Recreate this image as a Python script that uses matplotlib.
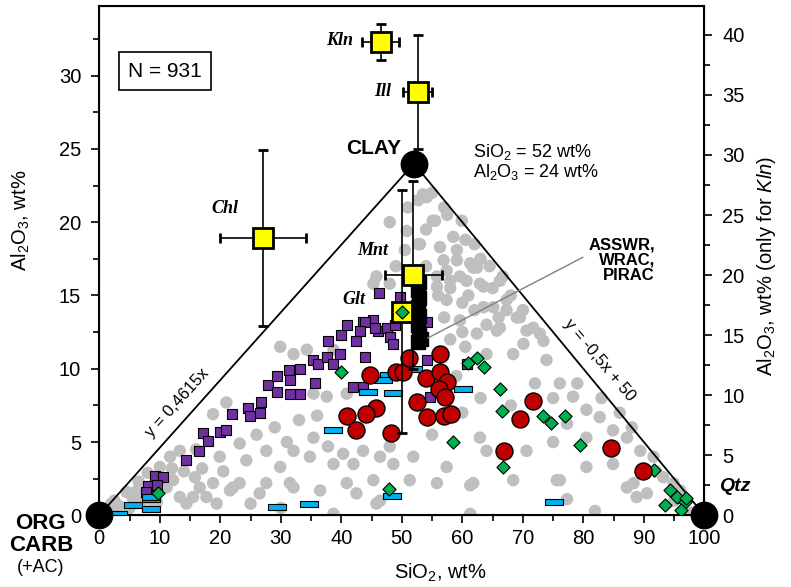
import matplotlib.pyplot as plt
from matplotlib.ticker import MultipleLocator

plt.rcParams['font.family'] = ['Liberation Sans', 'DejaVu Sans']
plt.rcParams['mathtext.fontset'] = 'custom'
plt.rcParams['mathtext.rm'] = 'Liberation Sans'
plt.rcParams['mathtext.it'] = 'Liberation Sans:italic'
plt.rcParams['mathtext.bf'] = 'Liberation Sans:bold'

# ---- data (SiO2 wt%, Al2O3 wt%) ----
# all samples (gray)
gray_x = [0.3, 1.5, 2.5, 3.5, 4.5, 5.5, 6.5, 7.0, 8.0, 10.0, 11.1, 11.7, 12.2, 13.3, 13.3, 14.4, 15.8,
          16.6, 17.7, 18.8, 19.4, 19.9, 21.0, 18.8, 21.6, 22.1, 23.2, 23.2, 24.3, 26.5, 27.6, 27.6,
          29.9, 31.5, 32.1, 32.1, 34.8, 35.4, 36.5, 37.8, 38.7, 38.7, 40.3, 40.9, 42.0, 42.5, 43.6,
          45.3, 45.8, 46.4, 46.4, 48.0, 48.6, 29.9, 32.1, 34.3, 38.7, 35.4, 37.6, 40.9, 45.8, 48.0,
          45.3, 15.5, 9.0, 25.0, 30.0, 20.5, 26.0, 29.0, 33.0, 36.0, 31.0,
          2.0, 3.0, 5.0, 6.0, 8.0, 9.5, 12.0, 14.0, 17.0, 16.0,
          53.5, 52.7, 54.1, 55.5, 50.8, 52.7, 59.9, 50.5, 56.3, 59.1, 56.9, 61.3, 59.6, 55.8, 57.4,
          61.8, 62.9, 66.7, 55.1, 53.0, 62.4, 59.1, 60.7, 63.5, 66.2, 67.3, 65.1, 69.0, 70.6, 72.8,
          66.2, 63.5, 57.4, 55.8, 59.6, 62.4, 67.3, 69.5, 71.7, 73.4, 70.1, 65.7, 68.4, 73.9, 58.0,
          60.5, 64.0, 57.0, 58.5, 54.0,
          58.0, 60.0, 61.0, 62.0, 64.0, 65.0, 63.0, 58.0, 56.0, 54.0, 57.0, 60.0, 68.0, 70.0, 66.0,
          64.5, 62.0, 60.5, 57.5, 55.0, 51.0, 49.0, 48.0,
          76.1, 78.3, 80.5, 82.7, 84.9, 87.2, 89.4, 91.6, 93.2, 94.9, 96.0, 80.5, 77.3, 75.0, 79.0,
          83.0, 86.0, 88.0, 92.0, 95.0, 97.9,
          70.6, 62.9, 64.0, 57.4, 51.9, 61.8, 75.6, 80.5, 84.9, 88.3, 68.4, 55.8, 51.3, 61.3, 61.3,
          76.1, 77.3, 81.9, 87.2, 88.8, 90.5, 60.0, 63.0, 68.0, 72.0, 75.0, 55.0, 59.0]
gray_y = [0.1, 0.5, 1.0, 0.6, 1.6, 1.2, 2.3, 0.9, 2.9, 3.3, 1.9, 4.0, 2.4, 1.25, 4.4, 0.8, 2.6,
          1.9, 1.25, 2.2, 0.8, 4.0, 7.7, 6.9, 1.7, 1.9, 4.9, 2.2, 3.75, 1.5, 4.4, 2.2,
          3.3, 2.2, 4.4, 1.9, 4.0, 5.3, 1.7, 4.7, 3.5, 0.1, 4.2, 2.2, 3.5, 1.5, 4.4,
          2.4, 0.8, 4.0, 1.0, 4.7, 3.5, 11.5, 11.0, 11.3, 11.3, 8.3, 8.1, 8.3, 16.3, 15.8,
          15.8, 1.25, 0.6, 0.8, 0.5, 3.0, 5.5, 6.0, 6.5, 6.8, 5.0,
          0.8, 0.3, 0.5, 1.6, 1.2, 0.9, 3.2, 3.0, 3.2, 4.5,
          21.9, 21.5, 21.7, 20.1, 19.4, 18.5, 20.1, 18.1, 18.3, 18.1, 17.4, 17.2, 16.3, 16.3, 16.7,
          16.9, 15.8, 16.3, 20.1, 18.5, 16.9, 17.4, 16.0, 15.6, 16.0, 14.7, 14.2, 13.5, 12.6, 12.4,
          12.8, 14.2, 14.7, 15.6, 13.3, 12.4, 14.0, 13.5, 12.8, 11.9, 11.7, 12.6, 11.0, 10.6, 12.0,
          11.5, 11.0, 21.0, 19.0, 19.5,
          15.5, 14.5, 15.0, 14.0, 13.0, 15.5, 17.5, 16.0, 15.0, 17.0, 13.5, 12.5, 15.0, 14.0, 13.5,
          17.0, 18.5, 18.8, 20.5, 22.0, 21.0, 17.0, 20.0,
          9.0, 8.1, 7.2, 6.7, 5.8, 5.3, 4.4, 4.0, 2.6, 2.2, 1.7, 5.3, 6.25, 8.0, 9.0,
          8.0, 7.0, 6.0, 3.0, 1.0, 0.2,
          4.4, 5.3, 4.4, 3.3, 4.0, 2.2, 2.4, 3.3, 3.5, 2.2, 2.4, 2.2, 2.4, 2.05, 0.1,
          2.4, 1.1, 0.3, 1.9, 1.25, 1.5, 7.0, 8.0, 7.5, 9.0, 5.0, 5.5, 9.5]

purple_x = [9.2, 10.6, 8.1, 9.5, 7.8, 14.4, 16.5, 17.2, 18.0, 19.9, 21.0, 21.9, 24.6, 24.9, 26.8, 26.5,
            27.9, 29.3, 29.3, 31.4, 31.5, 33.2, 33.2, 31.5, 35.4, 35.6, 36.2, 37.6, 37.8, 38.7, 40.0,
            39.8, 40.9, 42.5, 43.9, 42.0, 43.6, 43.6, 45.3, 46.1, 47.5, 48.0, 48.9, 48.6, 46.3, 49.7,
            54.1, 43.9, 45.5, 43.1, 54.1, 54.6, 60.7]
purple_y = [2.7, 2.6, 2.0, 2.1, 1.6, 3.8, 4.4, 5.6, 5.1, 5.7, 5.8, 6.9, 7.3, 6.8, 7.7, 7.0,
            8.9, 9.5, 8.4, 9.9, 9.2, 10.0, 8.3, 8.3, 10.6, 9.0, 10.3, 10.8, 11.9, 10.3, 12.3,
            11.0, 13.0, 11.9, 10.8, 8.75, 8.75, 13.2, 13.3, 12.6, 12.8, 12.2, 13.0, 11.7, 15.2, 14.9,
            13.2, 13.2, 12.8, 12.6, 10.6, 8.1, 10.3]

blue_x = [3.1, 5.6, 8.6, 8.6, 8.6, 29.3, 34.7, 48.3, 75.1, 38.7, 44.4, 48.6, 47.8, 46.9, 51.9, 60.1]
blue_y = [0.1, 0.7, 1.1, 0.4, 1.25, 0.6, 0.75, 1.3, 0.9, 5.8, 8.4, 8.35, 9.6, 9.2, 10.0, 8.6]

green_x = [61.0, 62.4, 63.6, 66.2, 66.5, 73.4, 74.6, 77.0, 58.4, 79.4, 66.8, 47.8, 91.6, 94.3, 95.4,
           93.5, 96.8, 96.2, 97.0, 40.0, 9.7]
green_y = [10.4, 10.7, 10.1, 8.6, 7.1, 6.8, 6.3, 6.75, 5.0, 4.8, 3.3, 1.8, 3.1, 1.7, 1.25,
           0.7, 0.9, 0.35, 1.2, 9.8, 1.5]

red_x = [44.7, 49.1, 50.2, 51.2, 56.3, 54.0, 56.3, 57.4, 56.1, 57.2, 52.5, 45.8, 44.0, 40.9, 42.5,
         48.2, 54.2, 57.0, 58.2, 71.6, 69.5, 66.9, 84.5, 89.8]
red_y = [9.6, 9.8, 9.8, 10.7, 11.0, 9.4, 9.8, 9.1, 8.6, 8.1, 7.7, 7.3, 6.9, 6.8, 5.8,
         5.6, 6.7, 6.8, 6.9, 7.8, 6.6, 4.4, 4.6, 3.0]

# ASSWR, WRAC, PIRAC samples (black)
black_x = [52.6, 52.9, 52.6, 52.9, 52.6, 52.9, 52.6, 52.9, 53.1]
black_y = [11.8, 12.4, 13.0, 13.6, 14.2, 14.8, 15.4, 15.9, 12.0]

# reference minerals: x, y, xerr, yerr
minerals = ['Chl', 'Ill', 'Mnt', 'Glt']
min_x = [27.1, 52.6, 51.9, 50.1]
min_y = [18.9, 28.9, 16.4, 13.9]
min_xerr = [7.1, 2.4, 4.7, 0.0]
min_yerr = [6.0, 3.9, 6.4, 8.3]
# kaolinite on the right axis
kln_x, kln_y, kln_xerr, kln_yerr = 46.5, 39.4, 3.0, 1.5

end_x = [0, 52, 100]
end_y = [0, 24, 0]

fig = plt.figure(figsize=(7.91, 5.87), dpi=100)
ax = fig.add_axes([0.1255, 0.1221, 0.765, 0.8677])
ax.set_xlim(0, 100)
ax.set_ylim(0, 34.75)

# triangle
ax.plot(end_x, end_y, color='black', lw=1.3, zorder=2)

ax.scatter(gray_x, gray_y, s=80, color='#bfbfbf', edgecolors='none', zorder=1)
ax.scatter(purple_x, purple_y, s=55, marker='s', color='#7030a0', edgecolors='black', linewidths=0.8, zorder=3)
rect = [(-1, -0.38), (1, -0.38), (1, 0.38), (-1, 0.38), (-1, -0.38)]
ax.scatter(blue_x, blue_y, s=150, marker=rect, color='#00b0f0', edgecolors='black', linewidths=0.8, zorder=4)
ax.scatter(green_x, green_y, s=45, marker='D', color='#00b050', edgecolors='black', linewidths=0.8, zorder=5)
ax.scatter(red_x, red_y, s=150, marker='o', color='#c00000', edgecolors='black', linewidths=1.0, zorder=6)
ax.scatter(black_x, black_y, s=110, marker='s', color='black', zorder=7)

for name, x, y, xe, ye in zip(minerals, min_x, min_y, min_xerr, min_yerr):
    ax.errorbar(x, y, xerr=xe if xe > 0 else None, yerr=ye, fmt='s', ms=15, mfc='#ffff00', mec='black',
                mew=2, ecolor='black', elinewidth=1.2, capsize=3.5, capthick=1.2, zorder=8)
ax.scatter([50.0], [13.9], s=45, marker='D', color='#00b050', edgecolors='black', linewidths=0.8, zorder=9)

ax.plot(end_x, end_y, 'o', ms=19, color='black', clip_on=False, zorder=10)

# labels of minerals
mfont = dict(family='Liberation Serif', style='italic', weight='bold', fontsize=13)
ax.text(20.8, 20.9, 'Chl', ha='center', va='center', **mfont)
ax.text(48.2, 28.9, 'Ill', ha='right', va='center', **mfont)
ax.text(47.7, 18.1, 'Mnt', ha='right', va='center', **mfont)
ax.text(43.9, 14.7, 'Glt', ha='right', va='center', **mfont)

ax.text(45.4, 25.0, 'CLAY', ha='center', va='center', fontsize=15, fontweight='bold')
ax.text(61.8, 24.8, r'SiO$_2$ = 52 wt%', ha='left', va='center', fontsize=13)
ax.text(61.8, 23.4, r'Al$_2$O$_3$ = 24 wt%', ha='left', va='center', fontsize=13)

ax.text(91.8, 17.4, 'ASSWR,\nWRAC,\nPIRAC', ha='right', va='center', fontsize=12,
        fontweight='bold', linespacing=1.05)
ax.plot([79.9, 54.3], [17.6, 12.1], color='#808080', lw=1.0, zorder=11)

ax.text(12.9, 7.7, 'y = 0,4615x', rotation=48, ha='center', va='center', fontsize=12,
        rotation_mode='anchor')
ax.text(82.7, 10.6, 'y = -0,5x + 50', rotation=-50, ha='center', va='center', fontsize=12,
        rotation_mode='anchor')

ax.text(10.9, 30.3, 'N = 931', ha='center', va='center', fontsize=15,
        bbox=dict(boxstyle='square,pad=0.45', fc='white', ec='black', lw=1.2))

ax.text(-9.8, -0.55, 'ORG', ha='center', va='center', fontsize=16, fontweight='bold', clip_on=False)
ax.text(-9.6, -2.05, 'CARB', ha='center', va='center', fontsize=16, fontweight='bold', clip_on=False)
ax.text(-9.7, -3.55, '(+AC)', ha='center', va='center', fontsize=13, clip_on=False)
ax.text(105.0, 2.0, 'Qtz', ha='center', va='center', fontsize=14, fontweight='bold', style='italic')

ax.xaxis.set_major_locator(MultipleLocator(10))
ax.xaxis.set_minor_locator(MultipleLocator(5))
ax.yaxis.set_major_locator(MultipleLocator(5))
ax.yaxis.set_minor_locator(MultipleLocator(2.5))
ax.tick_params(which='major', direction='out', length=6, width=1.2, labelsize=14.5, pad=4)
ax.tick_params(which='minor', direction='out', length=4, width=1.2)
ax.tick_params(axis='y', which='major', pad=7)
for s in ax.spines.values():
    s.set_linewidth(1.5)

ax.set_xlabel(r'SiO$_2$, wt%', fontsize=14.5)
ax.xaxis.set_label_coords(0.563, -0.092)
ax.set_ylabel(r'Al$_2$O$_3$, wt%', fontsize=14.5)
ax.yaxis.set_label_coords(-0.111, 0.58)

ax2 = ax.twinx()
ax2.set_ylim(0, 42.4)
ax2.yaxis.set_major_locator(MultipleLocator(5))
ax2.yaxis.set_minor_locator(MultipleLocator(2.5))
ax2.tick_params(which='major', direction='out', length=6, width=1.2, labelsize=14.5, pad=7)
ax2.tick_params(which='minor', direction='out', length=4, width=1.2)
ax2.errorbar(kln_x, kln_y, xerr=kln_xerr, yerr=kln_yerr, fmt='s', ms=15, mfc='#ffff00', mec='black',
             mew=2, ecolor='black', elinewidth=1.2, capsize=3.5, capthick=1.2, zorder=8)
ax2.text(41.9, 39.5, 'Kln', ha='right', va='center', **mfont)
ax2.set_ylabel(r'Al$_2$O$_3$, wt% (only for $\mathit{Kln}$)', fontsize=14.5)
ax2.yaxis.set_label_coords(1.084, 0.49)

fig.savefig('out.png', dpi=100)
